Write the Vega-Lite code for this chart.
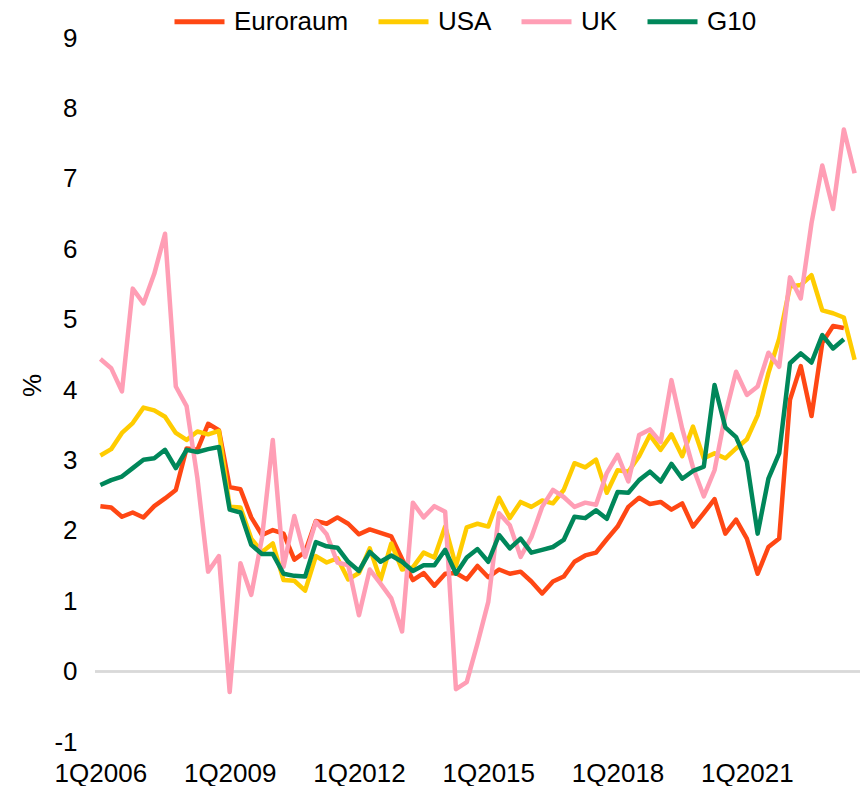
{
  "$schema": "https://vega.github.io/schema/vega-lite/v6.json",
  "autosize": "none",
  "padding": {"left": 95, "top": 38, "right": 1, "bottom": 44},
  "width": 765,
  "height": 704,
  "background": "white",
  "config": {
    "view": {"stroke": null},
    "font": "Liberation Sans",
    "axis": {"labelFont": "Liberation Sans", "titleFont": "Liberation Sans", "labelColor": "#000", "titleColor": "#000"},
    "legend": {"labelFont": "Liberation Sans"}
  },
  "data": {
    "values": [
      {"q":"1Q2006","Euroraum":2.35,"USA":3.07,"UK":4.44,"G10":2.65},
      {"q":"2Q2006","Euroraum":2.33,"USA":3.16,"UK":4.31,"G10":2.72},
      {"q":"3Q2006","Euroraum":2.20,"USA":3.39,"UK":3.98,"G10":2.77},
      {"q":"4Q2006","Euroraum":2.26,"USA":3.53,"UK":5.44,"G10":2.89},
      {"q":"1Q2007","Euroraum":2.19,"USA":3.75,"UK":5.23,"G10":3.01},
      {"q":"2Q2007","Euroraum":2.35,"USA":3.71,"UK":5.65,"G10":3.03},
      {"q":"3Q2007","Euroraum":2.46,"USA":3.62,"UK":6.22,"G10":3.15},
      {"q":"4Q2007","Euroraum":2.58,"USA":3.39,"UK":4.05,"G10":2.89},
      {"q":"1Q2008","Euroraum":3.17,"USA":3.29,"UK":3.77,"G10":3.15},
      {"q":"2Q2008","Euroraum":3.15,"USA":3.41,"UK":2.75,"G10":3.12},
      {"q":"3Q2008","Euroraum":3.52,"USA":3.37,"UK":1.42,"G10":3.16},
      {"q":"4Q2008","Euroraum":3.43,"USA":3.42,"UK":1.64,"G10":3.19},
      {"q":"1Q2009","Euroraum":2.62,"USA":2.34,"UK":-0.29,"G10":2.30},
      {"q":"2Q2009","Euroraum":2.59,"USA":2.33,"UK":1.54,"G10":2.26},
      {"q":"3Q2009","Euroraum":2.19,"USA":1.89,"UK":1.09,"G10":1.80},
      {"q":"4Q2009","Euroraum":1.94,"USA":1.70,"UK":1.90,"G10":1.67},
      {"q":"1Q2010","Euroraum":2.01,"USA":1.82,"UK":3.29,"G10":1.67},
      {"q":"2Q2010","Euroraum":1.96,"USA":1.30,"UK":1.49,"G10":1.39},
      {"q":"3Q2010","Euroraum":1.59,"USA":1.29,"UK":2.21,"G10":1.36},
      {"q":"4Q2010","Euroraum":1.70,"USA":1.15,"UK":1.63,"G10":1.35},
      {"q":"1Q2011","Euroraum":2.14,"USA":1.64,"UK":2.13,"G10":1.84},
      {"q":"2Q2011","Euroraum":2.10,"USA":1.55,"UK":1.95,"G10":1.78},
      {"q":"3Q2011","Euroraum":2.19,"USA":1.61,"UK":1.55,"G10":1.76},
      {"q":"4Q2011","Euroraum":2.10,"USA":1.31,"UK":1.51,"G10":1.56},
      {"q":"1Q2012","Euroraum":1.95,"USA":1.40,"UK":0.80,"G10":1.43},
      {"q":"2Q2012","Euroraum":2.02,"USA":1.75,"UK":1.45,"G10":1.70},
      {"q":"3Q2012","Euroraum":1.97,"USA":1.30,"UK":1.25,"G10":1.56},
      {"q":"4Q2012","Euroraum":1.92,"USA":1.82,"UK":1.04,"G10":1.65},
      {"q":"1Q2013","Euroraum":1.60,"USA":1.45,"UK":0.57,"G10":1.56},
      {"q":"2Q2013","Euroraum":1.30,"USA":1.48,"UK":2.40,"G10":1.43},
      {"q":"3Q2013","Euroraum":1.40,"USA":1.69,"UK":2.19,"G10":1.51},
      {"q":"4Q2013","Euroraum":1.22,"USA":1.62,"UK":2.35,"G10":1.51},
      {"q":"1Q2014","Euroraum":1.39,"USA":2.06,"UK":2.27,"G10":1.73},
      {"q":"2Q2014","Euroraum":1.40,"USA":1.50,"UK":-0.25,"G10":1.39},
      {"q":"3Q2014","Euroraum":1.31,"USA":2.05,"UK":-0.15,"G10":1.62},
      {"q":"4Q2014","Euroraum":1.50,"USA":2.10,"UK":0.40,"G10":1.74},
      {"q":"1Q2015","Euroraum":1.34,"USA":2.06,"UK":0.99,"G10":1.56},
      {"q":"2Q2015","Euroraum":1.45,"USA":2.47,"UK":2.25,"G10":1.94},
      {"q":"3Q2015","Euroraum":1.39,"USA":2.18,"UK":2.08,"G10":1.75},
      {"q":"4Q2015","Euroraum":1.42,"USA":2.41,"UK":1.63,"G10":1.89},
      {"q":"1Q2016","Euroraum":1.28,"USA":2.34,"UK":1.91,"G10":1.69},
      {"q":"2Q2016","Euroraum":1.11,"USA":2.43,"UK":2.34,"G10":1.73},
      {"q":"3Q2016","Euroraum":1.28,"USA":2.39,"UK":2.58,"G10":1.77},
      {"q":"4Q2016","Euroraum":1.35,"USA":2.58,"UK":2.48,"G10":1.87},
      {"q":"1Q2017","Euroraum":1.56,"USA":2.96,"UK":2.34,"G10":2.20},
      {"q":"2Q2017","Euroraum":1.65,"USA":2.90,"UK":2.40,"G10":2.18},
      {"q":"3Q2017","Euroraum":1.69,"USA":3.01,"UK":2.37,"G10":2.29},
      {"q":"4Q2017","Euroraum":1.88,"USA":2.54,"UK":2.82,"G10":2.17},
      {"q":"1Q2018","Euroraum":2.06,"USA":2.86,"UK":3.08,"G10":2.55},
      {"q":"2Q2018","Euroraum":2.34,"USA":2.84,"UK":2.70,"G10":2.54},
      {"q":"3Q2018","Euroraum":2.47,"USA":3.06,"UK":3.36,"G10":2.72},
      {"q":"4Q2018","Euroraum":2.38,"USA":3.36,"UK":3.44,"G10":2.84},
      {"q":"1Q2019","Euroraum":2.41,"USA":3.15,"UK":3.26,"G10":2.70},
      {"q":"2Q2019","Euroraum":2.30,"USA":3.37,"UK":4.14,"G10":2.95},
      {"q":"3Q2019","Euroraum":2.39,"USA":3.06,"UK":3.45,"G10":2.74},
      {"q":"4Q2019","Euroraum":2.06,"USA":3.48,"UK":2.90,"G10":2.85},
      {"q":"1Q2020","Euroraum":2.25,"USA":3.03,"UK":2.49,"G10":2.91},
      {"q":"2Q2020","Euroraum":2.45,"USA":3.10,"UK":2.86,"G10":4.07},
      {"q":"3Q2020","Euroraum":1.96,"USA":3.03,"UK":3.65,"G10":3.47},
      {"q":"4Q2020","Euroraum":2.16,"USA":3.17,"UK":4.26,"G10":3.33},
      {"q":"1Q2021","Euroraum":1.89,"USA":3.30,"UK":3.93,"G10":2.98},
      {"q":"2Q2021","Euroraum":1.39,"USA":3.64,"UK":4.05,"G10":1.96},
      {"q":"3Q2021","Euroraum":1.77,"USA":4.24,"UK":4.53,"G10":2.74},
      {"q":"4Q2021","Euroraum":1.89,"USA":4.73,"UK":4.33,"G10":3.10},
      {"q":"1Q2022","Euroraum":3.86,"USA":5.47,"UK":5.60,"G10":4.38},
      {"q":"2Q2022","Euroraum":4.34,"USA":5.49,"UK":5.30,"G10":4.52},
      {"q":"3Q2022","Euroraum":3.63,"USA":5.63,"UK":6.37,"G10":4.39},
      {"q":"4Q2022","Euroraum":4.67,"USA":5.13,"UK":7.19,"G10":4.78},
      {"q":"1Q2023","Euroraum":4.91,"USA":5.09,"UK":6.57,"G10":4.59},
      {"q":"2Q2023","Euroraum":4.88,"USA":5.03,"UK":7.70,"G10":4.72},
      {"q":"3Q2023","Euroraum":null,"USA":4.43,"UK":7.08,"G10":null}
    ]
  },
  "layer": [
    {
      "mark": {"type": "rule", "color": "#d9d9d9", "strokeWidth": 1.5},
      "encoding": {"y": {"datum": 0, "type": "quantitative", "scale": {"domain": [-1, 9]}}}
    },
    {
      "transform": [{"fold": ["Euroraum", "USA", "UK", "G10"], "as": ["series", "value"]}],
      "mark": {"type": "line", "strokeWidth": 4.5, "strokeJoin": "round"},
      "encoding": {
        "x": {
          "field": "q", "type": "ordinal", "sort": null,
          "scale": {"type": "point", "padding": 0.5},
          "axis": {
            "title": null,
            "values": ["1Q2006", "1Q2009", "1Q2012", "1Q2015", "1Q2018", "1Q2021"],
            "labelAngle": 0, "domain": false, "ticks": false, "grid": false,
            "labelFontSize": 26, "labelPadding": 18
          }
        },
        "y": {
          "field": "value", "type": "quantitative",
          "scale": {"domain": [-1, 9], "nice": false, "zero": false},
          "axis": {
            "title": "%", "values": [-1, 0, 1, 2, 3, 4, 5, 6, 7, 8, 9],
            "labelExpr": "'' + datum.value",
            "domain": false, "ticks": false, "grid": false,
            "labelFontSize": 26, "labelPadding": 18,
            "titleFontSize": 26, "titleFontWeight": "normal",
            "titleX": -63, "titleY": 347, "titleAngle": -90,
            "titleAlign": "center", "titleBaseline": "middle"
          }
        },
        "color": {
          "field": "series", "type": "nominal",
          "scale": {"domain": ["Euroraum", "USA", "UK", "G10"], "range": ["#FF4714", "#FFCC00", "#FF9EB5", "#00875A"]},
          "legend": {
            "title": null, "orient": "none", "direction": "horizontal",
            "legendX": 77, "legendY": -44, "padding": 0,
            "symbolType": "stroke", "symbolSize": 2500, "symbolStrokeWidth": 5,
            "labelFontSize": 26, "labelOffset": 7, "columnPadding": 19, "labelColor": "#000"
          }
        }
      }
    }
  ]
}
